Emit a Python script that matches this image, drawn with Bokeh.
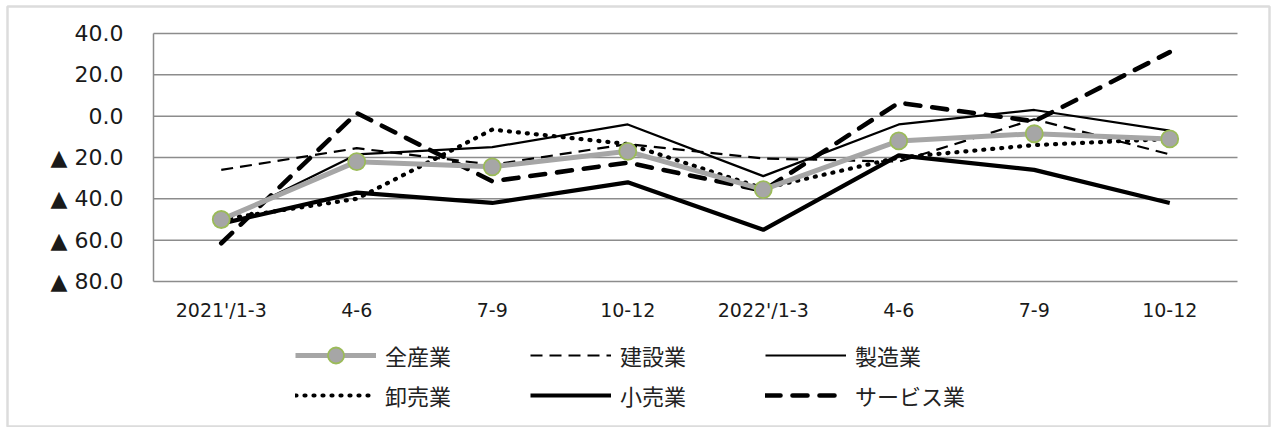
from bokeh.plotting import figure
from bokeh.models import Range1d, FixedTicker, Legend, LegendItem, BoxAnnotation
from bokeh.embed import file_html
from bokeh.resources import INLINE

categories = ["2021'/1-3", "4-6", "7-9", "10-12", "2022'/1-3", "4-6", "7-9", "10-12"]
all_industries = [-50, -22, -24.5, -17, -35.5, -12, -8.5, -11]
construction = [-26, -15.5, -23.5, -13.5, -20.5, -22, -1.5, -18.5]
manufacturing = [-51, -18.5, -15, -4, -29, -4, 3, -7]
wholesale = [-50, -40, -6.5, -13.5, -35, -20, -14, -11]
retail = [-52, -37, -42, -32, -55, -19, -26, -42]
services = [-61.5, 1.5, -31.5, -22.5, -36, 6.5, -2.5, 31]
y_ticks = [40, 20, 0, -20, -40, -60, -80]
y_tick_labels = ["40.0", "20.0", "0.0", "▲ 20.0", "▲ 40.0", "▲ 60.0", "▲ 80.0"]

W, H = 1274, 427
PL, PR, PT, PB = 153, 1237, 33, 281     # plot-area edges in canvas pixels
n = len(categories)
ymin, ymax = min(y_ticks), max(y_ticks)
px_x = (PR - PL) / n
px_y = (PB - PT) / (ymax - ymin)

xs = list(range(n))

# the frame covers the whole canvas; axes are pinned at the plot-area edges
p = figure(width=W, height=H, output_backend="svg", toolbar_location=None,
           x_range=Range1d(-0.5 - PL / px_x, n - 0.5 + (W - PR) / px_x),
           y_range=Range1d(ymin - (H - PB) / px_y, ymax + PT / px_y),
           min_border=0, min_border_left=0, min_border_right=0,
           min_border_top=0, min_border_bottom=0)
p.title.visible = False
p.outline_line_color = None
p.background_fill_color = "white"
p.border_fill_color = "white"
p.grid.visible = False

GRAY = "#8c8c8c"

# horizontal gridlines across the plot area
p.segment(x0=[-0.5] * len(y_ticks), x1=[n - 0.5] * len(y_ticks), y0=y_ticks, y1=y_ticks,
          line_color=GRAY, line_width=1.5)

p.yaxis.fixed_location = -0.5
p.yaxis.bounds = (ymin, ymax)
p.yaxis.ticker = FixedTicker(ticks=y_ticks)
p.yaxis.major_label_overrides = {t: l for t, l in zip(y_ticks, y_tick_labels)}
p.yaxis.axis_line_color = GRAY
p.yaxis.axis_line_width = 1.5
p.yaxis.major_tick_line_color = None
p.yaxis.minor_tick_line_color = None
p.yaxis.major_tick_out = 0
p.yaxis.major_tick_in = 0
p.yaxis.major_label_standoff = 30
p.yaxis.major_label_text_font = "DejaVu Sans"
p.yaxis.major_label_text_font_size = "22px"
p.yaxis.major_label_text_color = "#1a1a1a"

p.xaxis.fixed_location = ymin
p.xaxis.bounds = (-0.5, n - 0.5)
p.xaxis.ticker = FixedTicker(ticks=xs)
p.xaxis.major_label_overrides = {i: c for i, c in enumerate(categories)}
p.xaxis.axis_line_color = None
p.xaxis.major_tick_line_color = None
p.xaxis.minor_tick_line_color = None
p.xaxis.major_tick_out = 0
p.xaxis.major_tick_in = 0
p.xaxis.major_label_standoff = 17
p.xaxis.major_label_text_font = "DejaVu Sans"
p.xaxis.major_label_text_font_size = "19px"
p.xaxis.major_label_text_color = "#1a1a1a"

r_con = p.line(xs, construction, line_color="black", line_width=2.2, line_dash="12 7")
r_man = p.line(xs, manufacturing, line_color="black", line_width=2.2)
r_who = p.line(xs, wholesale, line_color="black", line_width=4.2, line_dash="1 8", line_cap="round")
r_ret = p.line(xs, retail, line_color="black", line_width=4.2)
r_ser = p.line(xs, services, line_color="black", line_width=4.6, line_dash="15 12", line_cap="round")
r_all = p.line(xs, all_industries, line_color="#a6a6a6", line_width=5)
r_allm = p.scatter(xs, all_industries, marker="circle", size=17, fill_color="#a6a6a6",
                   line_color="#9bbb59", line_width=1.8)

items = [
    LegendItem(label="全産業", renderers=[r_all, r_allm]),
    LegendItem(label="建設業", renderers=[r_con]),
    LegendItem(label="製造業", renderers=[r_man]),
    LegendItem(label="卸売業", renderers=[r_who]),
    LegendItem(label="小売業", renderers=[r_ret]),
    LegendItem(label="サービス業", renderers=[r_ser]),
]
legend = Legend(items=items, orientation="horizontal", ncols=3,
                location=(295, 12), glyph_width=81, glyph_height=40,
                label_height=20, label_width=145, label_standoff=9, spacing=0,
                padding=0, margin=0, border_line_color=None, background_fill_alpha=0,
                label_text_font="Noto Sans CJK JP", label_text_font_size="22px",
                label_text_color="#222222")
p.add_layout(legend, "center")

# outer chart border (screen units, relative to the frame = whole canvas)
border = BoxAnnotation(left=7, right=W - 5, top=H - 6, bottom=H - 426,
                       left_units="screen", right_units="screen",
                       top_units="screen", bottom_units="screen",
                       fill_alpha=0, line_color=GRAY, line_width=2.5, level="overlay")
p.add_layout(border)

open("out.html", "w").write(file_html(p, INLINE))
